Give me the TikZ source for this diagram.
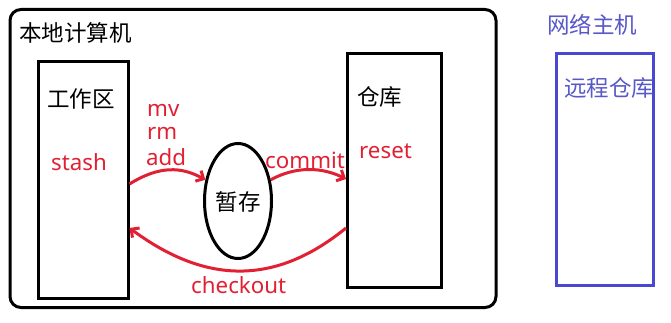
\documentclass[tikz,border=0pt]{standalone}
\usepackage{fontspec}
\setmainfont{Noto Sans}
\newfontfamily\cjk{Noto Sans CJK SC}
\usetikzlibrary{shapes.geometric,arrows.meta}
\definecolor{gred}{RGB}{226,32,52}
\definecolor{gblue}{RGB}{72,72,210}
\definecolor{gbluetext}{RGB}{88,88,200}
\tikzset{
  boxk/.style={draw=black, line width=3pt, rectangle, inner sep=0pt},
  boxb/.style={draw=gblue, line width=3pt, rectangle, inner sep=0pt},
  cn/.style={inner sep=0pt, anchor=base west, font=\cjk\fontsize{22.5}{26}\selectfont},
  lt/.style={inner sep=0pt, anchor=base west, text=gred, font=\fontsize{22.3}{26}\selectfont},
  flow/.style={draw=gred, line width=3pt, -{Straight Barb[length=6pt,width=12pt]}},
}
\begin{document}
\begin{tikzpicture}[x=1pt,y=-1pt]
\useasboundingbox[fill=white] (0,0) rectangle (671,323);
% outer local computer frame
\node[boxk, rounded corners=11pt, minimum width=486pt, minimum height=298pt] (local) at (253,158.5) {};
\node[cn] (locallbl) at (19,42) {本地计算机};
% work area
\node[boxk, minimum width=90pt, minimum height=236pt] (work) at (83,180) {};
\node[cn] (worklbl) at (47,108) {工作区};
\node[lt] (stash) at (51,171) {stash};
% repository
\node[boxk, minimum width=94pt, minimum height=233pt] (repo) at (394.5,170.5) {};
\node[cn] (repolbl) at (357,106) {仓库};
\node[lt] (reset) at (359,158) {reset};
% remote
\node[cn, text=gbluetext] (netlbl) at (547,34) {网络主机};
\node[boxb, minimum width=97pt, minimum height=231pt] (remote) at (605,169.5) {};
\node[cn, text=gbluetext] (remotelbl) at (564,97) {远程仓库};
% stage ellipse
\node[draw=black, line width=3pt, ellipse, minimum width=67pt, minimum height=115pt, inner sep=0pt] (stage) at (238,201) {};
\node[cn, anchor=base] (stagelbl) at (238,210) {暂存};
% labels
\node[lt] (mv) at (147,117) {mv};
\node[lt] (rm) at (147,140) {rm};
\node[lt] (add) at (146,166) {add};
\node[lt] (commit) at (265,168) {commit};
\node[lt] (checkout) at (191,293) {checkout};
% connectors
\draw[flow] ([yshift=-4pt]work.east) .. controls (160,165) and (182,167) .. (stage.147);
\draw[flow] (stage.33) .. controls (296,166) and (322,167) .. ([yshift=-8.5pt]repo.west);
\draw[flow] ([yshift=-57.5pt]repo.west) .. controls (270,290) and (200,280) .. ([yshift=-48pt]work.east);
\end{tikzpicture}
\end{document}
